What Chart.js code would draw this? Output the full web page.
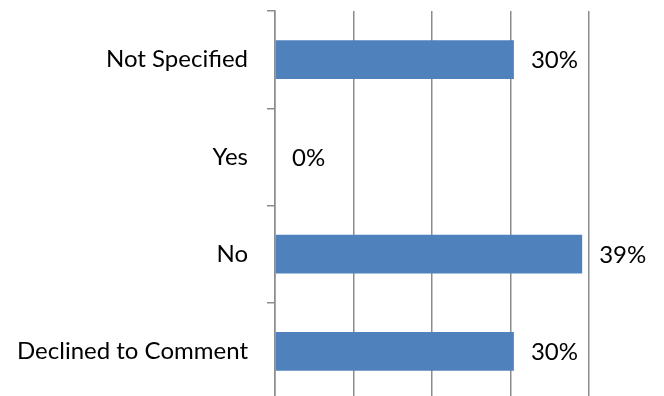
<!DOCTYPE html>
<html>
<head>
<meta charset="utf-8">
<script src="https://cdn.jsdelivr.net/npm/chart.js@4/dist/chart.umd.min.js"></script>
<style>
  html, body { margin: 0; padding: 0; background: #fff; overflow: hidden; }
  #wrap { width: 664px; height: 396px; overflow: hidden; position: relative; }
  #box { width: 664px; height: 400px; position: absolute; left: 0; top: 0; }
</style>
</head>
<body>
<div id="wrap"><div id="box"><canvas id="chart"></canvas></div></div>
<script>
// Survey responses (share of respondents, %)
const categories = ['Not Specified', 'Yes', 'No', 'Declined to Comment'];
const shares = [30.43, 0, 39.13, 30.43];
const axisTicks = [0, 10, 20, 30, 40];

const FONT = 'Lato, "Open Sans", sans-serif';
const FONT_SIZE = 24;
const GRID = '#8c8c8c';

// Writes the rounded percentage just past the end of each bar
const valueLabels = {
  id: 'valueLabels',
  afterDatasetsDraw(chart) {
    const ctx = chart.ctx;
    const meta = chart.getDatasetMeta(0);
    ctx.save();
    ctx.font = FONT_SIZE + 'px ' + FONT;
    ctx.fillStyle = '#000';
    ctx.textAlign = 'left';
    ctx.textBaseline = 'middle';
    meta.data.forEach((bar, i) => {
      const v = chart.data.datasets[0].data[i];
      ctx.fillText(Math.round(v) + '%', bar.x + 17, bar.y + 1);
    });
    ctx.restore();
  }
};

new Chart(document.getElementById('chart'), {
  type: 'bar',
  data: {
    labels: categories,
    datasets: [{
      data: shares,
      backgroundColor: '#4f81bd',
      borderWidth: 0,
      categoryPercentage: 0.8,
      barPercentage: 0.5
    }]
  },
  options: {
    indexAxis: 'y',
    responsive: true,
    maintainAspectRatio: false,
    animation: false,
    layout: { padding: { top: 11, right: 75, bottom: 0, left: 0 } },
    plugins: { legend: { display: false }, tooltip: { enabled: false } },
    scales: {
      x: {
        min: axisTicks[0],
        max: axisTicks[axisTicks.length - 1],
        afterBuildTicks(scale) { scale.ticks = axisTicks.map(v => ({ value: v })); },
        ticks: { display: false },
        grid: { color: GRID, lineWidth: 1.5, drawTicks: false },
        border: { display: false },
        afterFit(scale) {
          scale.height = 0;
          scale.paddingLeft = 0;
          scale.paddingRight = 0;
        }
      },
      y: {
        ticks: {
          color: '#000',
          padding: 19,
          font: { family: FONT, size: FONT_SIZE }
        },
        grid: {
          drawOnChartArea: false,
          color: GRID,
          lineWidth: 1.5,
          tickLength: 8,
          offset: true
        },
        border: { display: true, color: GRID, width: 1.5 },
        afterFit(scale) {
          scale.width = 275;
          scale.paddingTop = 0;
          scale.paddingBottom = 0;
        }
      }
    }
  },
  plugins: [valueLabels]
});
</script>
</body>
</html>
